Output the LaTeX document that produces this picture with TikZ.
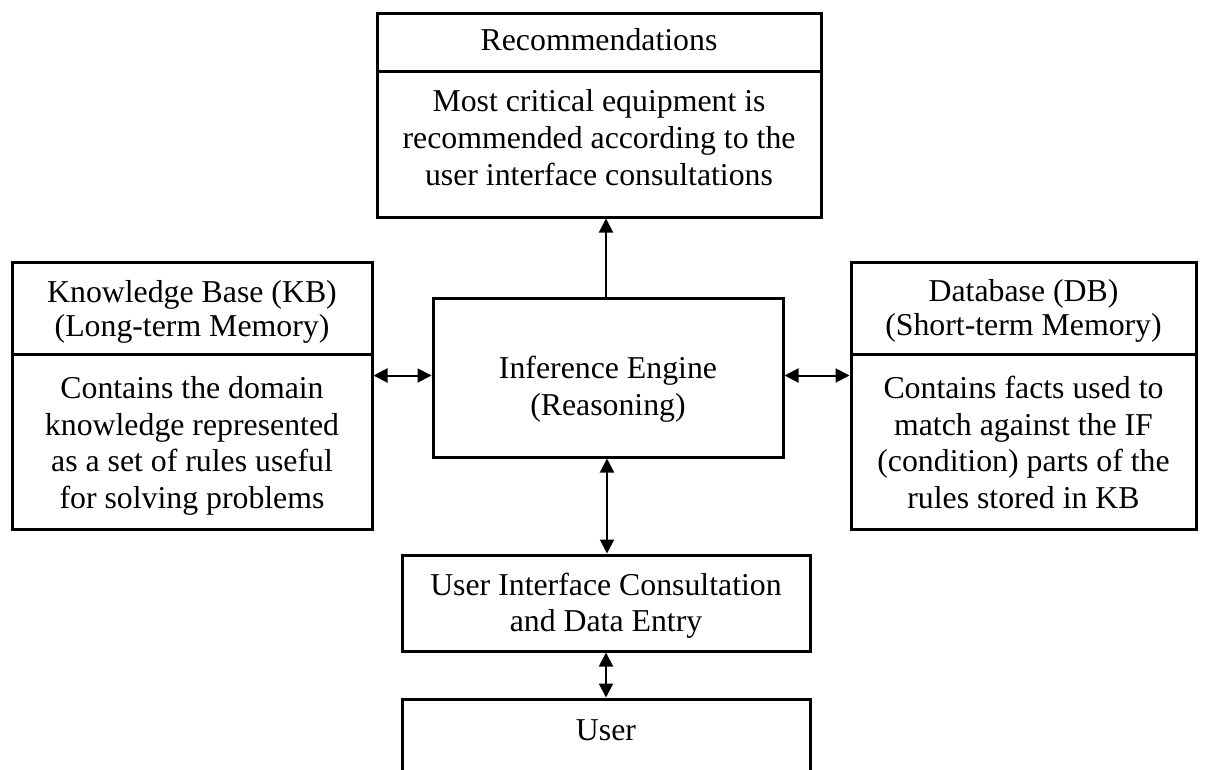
\documentclass[tikz,border=0pt]{standalone}
\usepackage{fontspec}
\setmainfont{Liberation Serif}
\usetikzlibrary{arrows.meta}
\newcommand{\fl}{\rule{0pt}{25pt}}
\begin{document}
\begin{tikzpicture}[x=1pt,y=-1pt,
  box/.style={draw, line width=3pt, inner sep=0pt},
  txt/.style={align=center, inner sep=0pt, anchor=north, font=\fontsize{31.8}{36.7}\selectfont},
  hdr/.style={txt, font=\fontsize{31.8}{34}\selectfont},
  one/.style={inner sep=0pt, anchor=base, font=\fontsize{31.8}{36.7}\selectfont},
  arr/.style={line width=2pt, {Triangle[length=14pt,width=14pt]}-{Triangle[length=14pt,width=14pt]}},
  uarr/.style={line width=2pt, -{Triangle[length=14pt,width=14pt]}}]
\useasboundingbox (0,0) rectangle (1208,769);
\clip (0,0) rectangle (1208,769);
% boxes
\node[box, minimum width=444pt, minimum height=58pt] (rech) at (599,42) {};
\node[box, minimum width=444pt, minimum height=146pt] (recb) at (599,144) {};
\node[box, minimum width=350pt, minimum height=159pt] (inf) at (608,377.5) {};
\node[box, minimum width=360pt, minimum height=92pt] (kbh) at (192,308) {};
\node[box, minimum width=360pt, minimum height=175pt] (kbb) at (192,441.5) {};
\node[box, minimum width=345pt, minimum height=92pt] (dbh) at (1023.5,308) {};
\node[box, minimum width=345pt, minimum height=175pt] (dbb) at (1023.5,441.5) {};
\node[box, minimum width=408pt, minimum height=96pt] (ui) at (606,603) {};
\node[box, minimum width=408pt, minimum height=120pt] (user) at (606,759) {};
% texts (north = first baseline - 25)
\node[one] (rechT) at (599,50.7) {Recommendations};
\node[txt] (recbT) at (599,86.7) {\fl Most critical equipment is\\recommended according to the\\user interface consultations};
\node[txt, font=\fontsize{31.8}{37.3}\selectfont] (infT) at (608,353) {\fl Inference Engine\\(Reasoning)};
\node[hdr] (kbhT) at (192,277.5) {\fl Knowledge Base (KB)\\(Long-term Memory)};
\node[txt] (kbbT) at (192,373.3) {\fl Contains the domain\\knowledge represented\\as a set of rules useful\\for solving problems};
\node[hdr] (dbhT) at (1023.5,276) {\fl Database (DB)\\(Short-term Memory)};
\node[txt] (dbbT) at (1023.5,373.3) {\fl Contains facts used to\\match against the IF\\(condition) parts of the\\rules stored in KB};
\node[txt] (uiT) at (606,570) {\fl User Interface Consultation\\and Data Entry};
\node[one] (userT) at (606,740) {User};
% connectors
\draw[uarr] ([xshift=-2pt]inf.north) -- ([xshift=-2pt]inf.north |- recb.south);
\draw[arr] ([xshift=-1pt]inf.south) -- ([xshift=-1pt]inf.south |- ui.north);
\draw[arr] (ui.south) -- (user.north);
\draw[arr] ([yshift=2pt]inf.west) -- ([yshift=2pt]inf.west -| kbb.east);
\draw[arr] ([yshift=2pt]inf.east) -- ([yshift=2pt]inf.east -| dbb.west);
\end{tikzpicture}
\end{document}
